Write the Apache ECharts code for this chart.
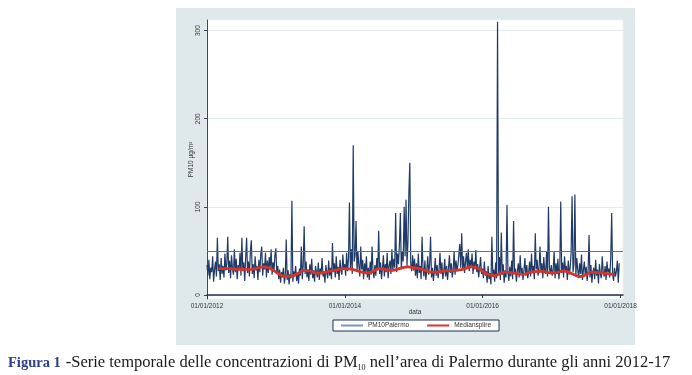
<!DOCTYPE html>
<html>
<head>
<meta charset="utf-8">
<script src="https://cdn.jsdelivr.net/npm/echarts@6/dist/echarts.min.js"></script>
<style>
  html, body { margin: 0; padding: 0; background: #fff; }
  #chart { width: 692px; height: 375px; }
</style>
</head>
<body>
<div id="chart"></div>
<script>
// PM10 readings, one value every 5 days starting 01/01/2012
var pm2012 = [34, 22, 40, 18, 31, 26, 44, 15, 29, 38,
  21, 65, 27, 35, 17, 42, 24, 33, 20, 47,
  28, 36, 66, 25, 39, 19, 45, 30, 23, 52,
  26, 41, 18, 34, 29, 48, 22, 65, 27, 37,
  16, 43, 65, 25, 38, 21, 50, 62, 24, 35,
  19, 44, 28, 33, 17, 40, 26, 46, 55, 22,
  36, 29, 48, 20, 39, 25, 43, 31, 52, 23,
  37, 27, 45];
var pm2013 = [53, 24, 33, 18, 29, 14, 26, 20, 31, 13,
  22, 63, 17, 28, 12, 24, 19, 107, 15, 27,
  21, 33, 16, 25, 13, 30, 22, 55, 18, 34,
  78, 24, 38, 20, 29, 16, 35, 23, 41, 19,
  28, 15, 33, 26, 20, 37, 17, 30, 24, 42,
  21, 27, 14, 34, 25, 19, 39, 22, 31, 18,
  59, 26, 36, 20, 44, 24, 32, 17, 40, 28,
  23, 46, 30];
var pm2014 = [35, 22, 48, 27, 41, 105, 30, 52, 24, 170,
  38, 45, 84, 26, 49, 33, 21, 55, 29, 40,
  18, 36, 25, 44, 20, 31, 17, 38, 23, 55,
  27, 19, 34, 22, 42, 28, 73, 24, 37, 18,
  30, 45, 21, 35, 26, 48, 19, 33, 39, 24,
  52, 28, 41, 31, 93, 26, 47, 35, 58, 93,
  29, 50, 38, 100, 44, 108, 33, 60, 116, 150,
  36, 27, 45];
var pm2015 = [28, 41, 22, 36, 19, 47, 25, 33, 18, 66,
  30, 21, 39, 17, 28, 44, 23, 35, 66, 20,
  31, 16, 27, 42, 22, 34, 19, 29, 48, 24,
  37, 18, 26, 41, 21, 33, 17, 30, 45, 25,
  36, 20, 28, 50, 23, 39, 27, 34, 46, 58,
  31, 70, 29, 44, 25, 37, 48, 30, 52, 27,
  40, 33, 47, 24, 38, 29, 51, 26, 35, 20,
  31, 43, 24];
var pm2016 = [30, 19, 38, 22, 27, 14, 33, 18, 25, 12,
  66, 21, 29, 15, 37, 19, 310, 24, 43, 17,
  71, 23, 35, 14, 28, 20, 102, 26, 16, 32,
  21, 39, 18, 84, 24, 30, 15, 27, 36, 20,
  45, 23, 31, 17, 28, 42, 22, 34, 19, 26,
  38, 21, 47, 25, 33, 18, 70, 29, 40, 22,
  31, 55, 26, 36, 19, 43, 28, 24, 49, 21,
  100, 30, 25];
var pm2017 = [34, 22, 29, 50, 19, 36, 24, 41, 18, 30,
  106, 25, 37, 20, 44, 27, 33, 17, 39, 23,
  31, 48, 112, 26, 35, 114, 21, 42, 29, 19,
  36, 24, 46, 17, 28, 38, 22, 32, 16, 27,
  68, 20, 34, 14, 25, 31, 18, 40, 22, 29,
  13, 35, 24, 19, 44, 27, 21, 33, 17, 38,
  26, 30, 20, 42, 93, 24, 16, 31, 21, 27,
  39, 14, 36];

// median spline, one value per month starting March 2012
var medianValues = [30, 30, 30, 29.5, 29, 29, 29.5, 31, 32, 30,
  26, 22, 21, 22, 25, 28, 27, 25, 25, 26.5,
  28, 29, 30, 29.5, 28, 26, 25, 27, 30, 29,
  28, 29, 31, 32, 31, 30, 28, 26, 26, 27,
  27.5, 28, 28.5, 30, 32, 31, 27, 23, 22, 24,
  26, 25.5, 24, 23.5, 25, 26.5, 27, 26, 25, 25.5,
  27.5, 26, 23, 21, 23, 26, 25.5, 25, 24, 23.5];

var yTicks = [0, 100, 200, 300];
var xTickDates = ['2012-01-01', '2014-01-01', '2016-01-01', '2018-01-01'];
var limitValue = 50;

var DAY = 86400000;
var start = Date.UTC(2012, 0, 1);
var pmAll = [].concat(pm2012, pm2013, pm2014, pm2015, pm2016, pm2017);
var pmData = pmAll.map(function (v, i) { return [start + i * 5 * DAY, v]; });
var medData = medianValues.map(function (v, i) { return [Date.UTC(2012, 2 + i, 1), v]; });
var xTicks = xTickDates.map(function (s) { return Date.parse(s + 'T00:00:00Z'); });

function fmtDate(v) {
  var d = new Date(v);
  var p = function (n) { return (n < 10 ? '0' : '') + n; };
  return p(d.getUTCDate()) + '/' + p(d.getUTCMonth() + 1) + '/' + d.getUTCFullYear();
}

var font = 'Liberation Sans, Arial, sans-serif';
var serif = 'Liberation Serif, Times New Roman, serif';
var myChart = echarts.init(document.getElementById('chart'));

var option = {
  animation: false,
  backgroundColor: '#fff',
  graphic: [{
    type: 'rect', z: -100, silent: true,
    shape: { x: 176, y: 8, width: 459, height: 337 },
    style: { fill: '#dfe9eb' }
  }],
  title: {
    left: 8, top: 353, padding: 0,
    text: '{b|Figura 1} {n|-Serie temporale delle concentrazioni di PM}{s|10}{n| nell\u2019area di Palermo durante gli anni 2012-17}',
    textStyle: {
      fontWeight: 'normal',
      rich: {
        b: { fontFamily: serif, fontWeight: 'bold', fontSize: 14.5, color: '#2b3f8c', lineHeight: 20 },
        n: { fontFamily: serif, fontWeight: 'normal', fontSize: 16.5, color: '#1a1a1a', lineHeight: 20 },
        s: { fontFamily: serif, fontWeight: 'normal', fontSize: 8, color: '#1a1a1a', lineHeight: 20, padding: [10, 0, 0, 0] }
      }
    }
  },
  legend: {
    left: 333, top: 320,
    padding: [2, 8],
    itemWidth: 22, itemHeight: 2, itemGap: 18,
    backgroundColor: '#fff',
    borderColor: '#1e2f55', borderWidth: 1,
    textStyle: { fontFamily: font, fontSize: 6.5, color: '#333' },
    data: [
      { name: 'PM10Palermo', icon: 'rect', itemStyle: { color: '#7d96b8' } },
      { name: 'Mediansplire', icon: 'rect', itemStyle: { color: '#d6332a' } }
    ]
  },
  grid: {
    left: 207, right: 69, top: 20, bottom: 76,
    show: true, backgroundColor: '#fff', borderColor: '#eef2f3', borderWidth: 1
  },
  xAxis: {
    type: 'value',
    min: start, max: Date.UTC(2018, 0, 14),
    name: 'data', nameLocation: 'middle', nameGap: 10, nameMoveOverlap: false,
    nameTextStyle: { fontFamily: font, fontSize: 6.5, color: '#333' },
    axisLine: { lineStyle: { color: '#1e2f55', width: 1.5 } },
    axisTick: { show: true, length: 3, customValues: xTicks, lineStyle: { color: '#1e2f55' } },
    axisLabel: { customValues: xTicks, formatter: fmtDate, margin: 4, fontFamily: font, fontSize: 6.5, color: '#333', hideOverlap: false },
    splitLine: { show: false }
  },
  yAxis: {
    type: 'value',
    min: -4.5, max: 312,
    name: 'PM10 \u00b5g/m\u00b3', nameLocation: 'middle', nameGap: 12, nameRotate: 90, nameMoveOverlap: false,
    nameTextStyle: { fontFamily: font, fontSize: 6.5, color: '#333' },
    axisLine: { show: true, lineStyle: { color: '#3a4660', width: 1 } },
    axisTick: { show: true, length: 3, customValues: yTicks, lineStyle: { color: '#3a4660' } },
    axisLabel: { customValues: yTicks, rotate: 90, margin: 5, fontFamily: font, fontSize: 6.5, color: '#333' },
    splitLine: { show: true, lineStyle: { color: '#e2ebed', width: 1 } }
  },
  series: [{
    name: 'PM10Palermo',
    type: 'line',
    data: pmData,
    symbol: 'none',
    color: '#1f3a66',
    lineStyle: { width: 1.2, color: '#1f3a66' },
    markLine: {
      silent: true, symbol: 'none', label: { show: false },
      lineStyle: { color: '#3f8f3f', width: 1, type: 'solid', opacity: 1 },
      data: [{ yAxis: limitValue }]
    },
    z: 2
  }, {
    name: 'Mediansplire',
    type: 'line',
    data: medData,
    symbol: 'none',
    smooth: true,
    color: '#d6332a',
    lineStyle: { width: 2.8, color: '#d6332a' },
    z: 3
  }]
};
myChart.setOption(option);
</script>
</body>
</html>
